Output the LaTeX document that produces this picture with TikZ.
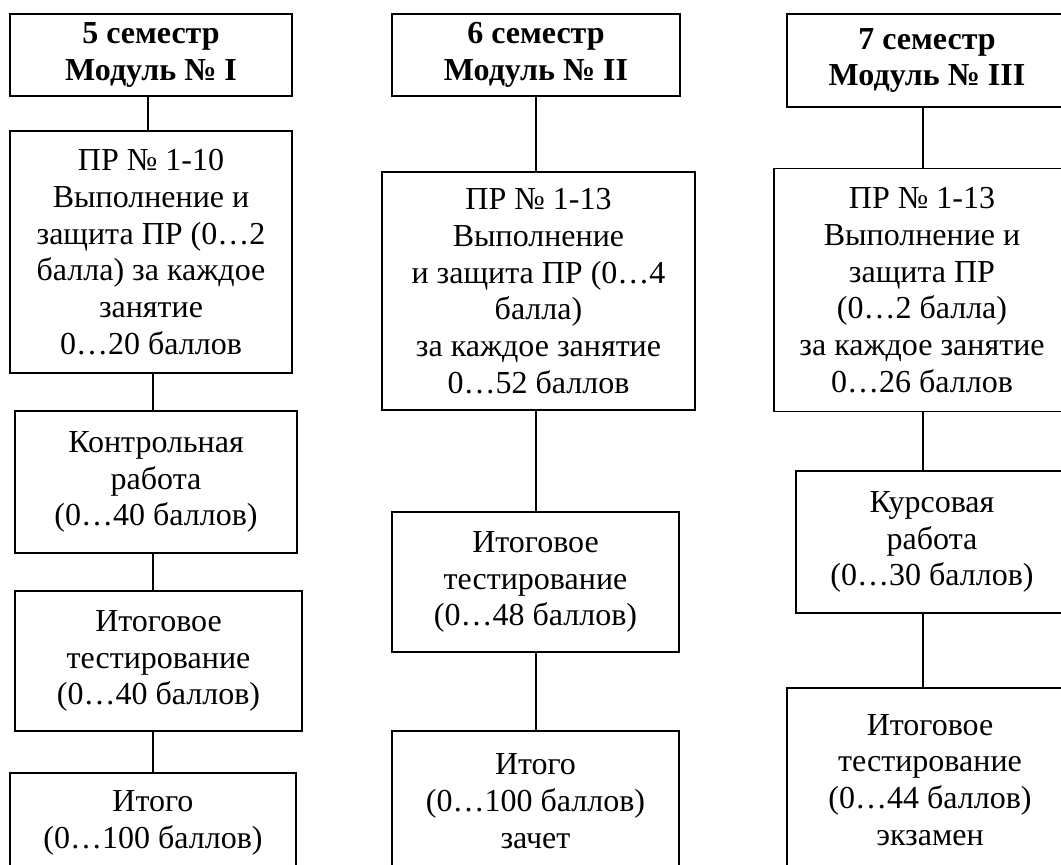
\documentclass[tikz,border=0pt]{standalone}
\usepackage{fontspec}
\setmainfont{Liberation Serif}
\begin{document}
\begin{tikzpicture}[x=1pt,y=-1pt,
  box/.style={draw=black, line width=1.8pt, fill=white, inner sep=0pt, align=center,
    font=\fontsize{32}{36.7}\selectfont},
  head/.style={box, font=\fontsize{32}{36.7}\selectfont\bfseries},
  link/.style={draw=black, line width=1.6pt}]
\useasboundingbox (0,0) rectangle (1061,865);
\clip (0,0) rectangle (1061,865);
\fill[white] (0,0) rectangle (1061,865);
% column coordinates for connectors
\coordinate (colAtop) at (148,0);
\coordinate (colA) at (153,0);
\coordinate (colB) at (536,0);
\coordinate (colC) at (923,0);
% column 1
\node[head, minimum width=282pt, minimum height=82pt] (A1) at (151,55) {5 семестр\\Модуль № I};
\node[box, minimum width=282pt, minimum height=242pt] (A2) at (151,252) {ПР № 1-10\\Выполнение и\\защита ПР (0…2\\балла) за каждое\\занятие\\0…20 баллов};
\node[box, minimum width=282pt, minimum height=142pt] (A3) at (156,482) {Контрольная\\работа\\(0…40 баллов)};
\node[box, minimum width=287pt, minimum height=140pt] (A4) at (158.5,661) {Итоговое\\тестирование\\(0…40 баллов)};
\node[box, minimum width=286pt, minimum height=100pt] (A5) at (153,823) {Итого\\(0…100 баллов)};
% column 2
\node[head, minimum width=288pt, minimum height=82pt] (B1) at (536,55) {6 семестр\\Модуль № II};
\node[box, minimum width=313pt, minimum height=238pt] (B2) at (538.5,291) {ПР № 1-13\\Выполнение\\и защита ПР (0…4\\балла)\\за каждое занятие\\0…52 баллов};
\node[box, minimum width=287pt, minimum height=140pt] (B3) at (535.5,582) {Итоговое\\тестирование\\(0…48 баллов)};
\node[box, minimum width=287pt, minimum height=140pt] (B4) at (535.5,801) {Итого\\(0…100 баллов)\\зачет};
% column 3
\node[head, minimum width=280pt, minimum height=93pt] (C1) at (927,60.5) {7 семестр\\Модуль № III};
\node[box, minimum width=296pt, minimum height=243pt] (C2) at (922,290) {ПР № 1-13\\Выполнение и\\защита ПР\\(0…2 балла)\\за каждое занятие\\0…26 баллов};
\node[box, minimum width=272pt, minimum height=142pt] (C3) at (932,542) {Курсовая\\работа\\(0…30 баллов)};
\node[box, minimum width=286pt, minimum height=184pt] (C4) at (930,780) {Итоговое\\тестирование\\(0…44 баллов)\\экзамен};
% connectors
\draw[link] (A1.south -| colAtop) -- (A2.north -| colAtop);
\draw[link] (A2.south -| colA) -- (A3.north -| colA);
\draw[link] (A3.south -| colA) -- (A4.north -| colA);
\draw[link] (A4.south -| colA) -- (A5.north -| colA);
\draw[link] (B1.south -| colB) -- (B2.north -| colB);
\draw[link] (B2.south -| colB) -- (B3.north -| colB);
\draw[link] (B3.south -| colB) -- (B4.north -| colB);
\draw[link] (C1.south -| colC) -- (C2.north -| colC);
\draw[link] (C2.south -| colC) -- (C3.north -| colC);
\draw[link] (C3.south -| colC) -- (C4.north -| colC);
\end{tikzpicture}
\end{document}
